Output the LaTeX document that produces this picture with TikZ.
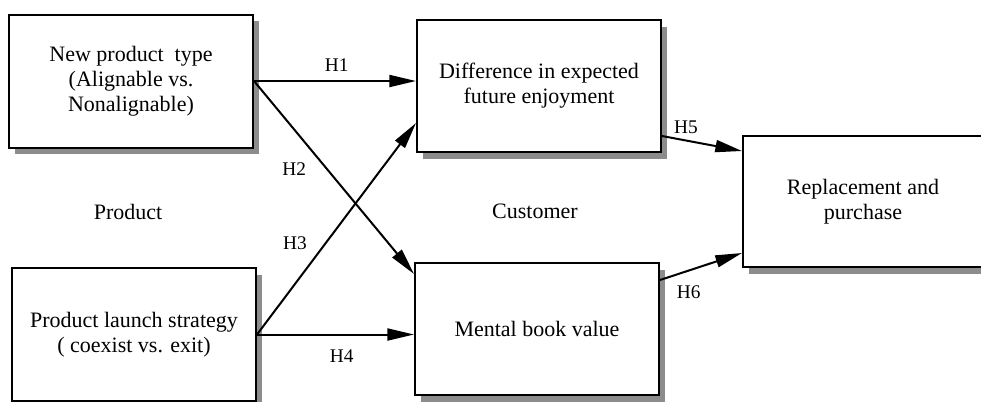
\documentclass[tikz,border=0pt]{standalone}
\usepackage{fontspec}
\setmainfont{Liberation Serif}
\usetikzlibrary{arrows.meta,shadows}

\tikzset{
    box/.style={draw,line width=1.5pt,fill=white,align=center,
        minimum width=183pt,minimum height=99.75pt,inner sep=2pt,
        font=\fontsize{16.5}{18.75}\selectfont,
        drop shadow={shadow xshift=4.5pt,shadow yshift=-5pt,fill=black!45,opacity=1}},
    link/.style={line width=1.5pt,-{Triangle[length=20pt,width=9pt]}},
    hyp/.style={inner sep=0pt,font=\fontsize{14.5}{16}\selectfont},
    side/.style={font=\fontsize{16.5}{18.75}\selectfont}
}

\begin{document}
\begin{tikzpicture}[x=0.75pt,y=-0.75pt]

    \useasboundingbox (0,0) rectangle (981,401);
    \clip (0,0) rectangle (981,401);

    % Draw the boxes
    \node[box] (newtype) at (131,81) {New product~ type\\(Alignable vs.\\Nonalignable)};
    \node[box,minimum height=99pt] (enjoy) at (539,86) {Difference in expected\\future enjoyment};
    \node[box] (launch) at (134,334.5) {Product launch strategy\\( coexist vs. exit)};
    \node[box,minimum height=99pt] (bookval) at (537,329) {Mental book value};
    \node[box,minimum width=180pt,minimum height=98.25pt] (replace) at (863,201.5) {Replacement and\\purchase};

    % Draw the group labels
    \node[side] (prod) at (128,212) {Product};
    \node[side] (cust) at (535,211) {Customer};

    % Draw the arrows
    \draw[link] (newtype.east) -- (newtype.east -| enjoy.west) node[hyp,pos=0.51,above=6.5pt] {H1};
    \draw[link] (newtype.east) -- ([yshift=-9pt]bookval.north west) node[hyp,pos=0.457,left=15pt] {H2};
    \draw[link] (launch.east) -- ([yshift=22.5pt]enjoy.south west) node[hyp,pos=0.432,left=13.5pt] {H3};
    \draw[link] (launch.east) -- (launch.east -| bookval.west) node[hyp,pos=0.54,below=11pt] {H4};
    \draw[link] ([yshift=12.75pt]enjoy.south east) -- ([yshift=-12pt]replace.north west) node[hyp,pos=0.3,above=4pt] {H5};
    \draw[link] ([yshift=-13.5pt]bookval.north east) -- ([yshift=11.25pt]replace.south west) node[hyp,pos=0.35,below=10.5pt] {H6};

\end{tikzpicture}
\end{document}
